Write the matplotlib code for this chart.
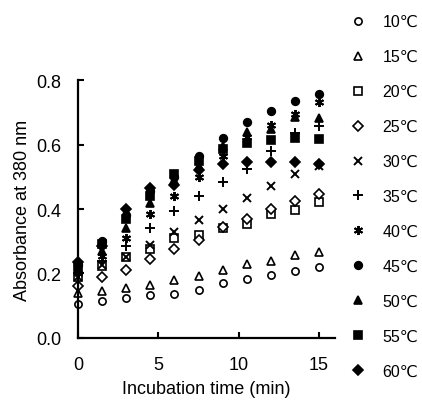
import matplotlib
matplotlib.use("Agg")
import matplotlib.pyplot as plt

plt.rcParams['font.family'] = ['Liberation Sans', 'DejaVu Sans']

times = [0, 1.5, 3, 4.5, 6, 7.5, 9, 10.5, 12, 13.5, 15]
labels = ["10℃", "15℃", "20℃", "25℃", "30℃", "35℃", "40℃", "45℃", "50℃", "55℃", "60℃"]

a10 = [0.105, 0.116, 0.124, 0.133, 0.136, 0.149, 0.171, 0.184, 0.194, 0.208, 0.219]
a15 = [0.140, 0.147, 0.155, 0.165, 0.180, 0.193, 0.210, 0.228, 0.240, 0.258, 0.267]
a20 = [0.190, 0.222, 0.250, 0.275, 0.310, 0.320, 0.340, 0.355, 0.385, 0.398, 0.421]
a25 = [0.160, 0.188, 0.210, 0.245, 0.275, 0.305, 0.345, 0.370, 0.400, 0.425, 0.446]
a30 = [0.190, 0.225, 0.250, 0.288, 0.328, 0.365, 0.400, 0.435, 0.470, 0.510, 0.535]
a35 = [0.200, 0.240, 0.285, 0.340, 0.395, 0.440, 0.485, 0.525, 0.580, 0.635, 0.658]
a40 = [0.200, 0.255, 0.310, 0.385, 0.440, 0.500, 0.565, 0.625, 0.660, 0.695, 0.731]
a45 = [0.225, 0.300, 0.380, 0.455, 0.500, 0.565, 0.620, 0.670, 0.705, 0.735, 0.757]
a50 = [0.210, 0.270, 0.340, 0.420, 0.490, 0.535, 0.595, 0.640, 0.650, 0.685, 0.684]
a55 = [0.220, 0.290, 0.370, 0.440, 0.510, 0.550, 0.585, 0.605, 0.615, 0.620, 0.617]
a60 = [0.235, 0.285, 0.400, 0.465, 0.475, 0.520, 0.540, 0.545, 0.545, 0.545, 0.540]

series = [a10, a15, a20, a25, a30, a35, a40, a45, a50, a55, a60]
markers = ['o', '^', 's', 'D', 'x', '+', (6, 2, 0), 'o', '^', 's', 'D']
filled = [False, False, False, False, None, None, None, True, True, True, True]
sizes = [5.2, 5.5, 5.2, 4.8, 5.5, 6.5, 6.5, 5.5, 5.8, 5.2, 4.8]

fig = plt.figure(figsize=(4.22, 4.02), dpi=100)
ax = fig.add_axes([0.185, 0.157, 0.609, 0.641])

for vals, m, f, s, lab in zip(series, markers, filled, sizes, labels):
    if f is None:
        ax.plot(times, vals, linestyle='none', marker=m, markersize=s,
                color='black', markeredgewidth=1.4, label=lab, clip_on=False)
    else:
        ax.plot(times, vals, linestyle='none', marker=m, markersize=s,
                markerfacecolor='black' if f else 'white',
                markeredgecolor='black', markeredgewidth=1.2, label=lab,
                clip_on=False)

ax.set_xlim(0, 16)
ax.set_ylim(0, 0.8)
ax.set_xticks([0, 5, 10, 15])
ax.set_yticks([0.0, 0.2, 0.4, 0.6, 0.8])
ax.set_yticklabels(["0.0", "0.2", "0.4", "0.6", "0.8"])
for s in ['top', 'right']:
    ax.spines[s].set_visible(False)
for s in ['left', 'bottom']:
    ax.spines[s].set_linewidth(1.6)
ax.tick_params(direction='in', length=4, width=1.5, labelsize=13)
ax.tick_params(axis='y', pad=12)
ax.tick_params(axis='x', pad=13)
ax.set_xlabel("Incubation time (min)", fontsize=13, labelpad=5)
ax.set_ylabel("Absorbance at 380 nm", fontsize=13, labelpad=4)

fig.legend(loc='upper left', bbox_to_anchor=(0.815, 0.978), frameon=False,
           fontsize=11.5, labelspacing=1.25, handletextpad=1.0,
           handlelength=1.0, borderaxespad=0)

fig.savefig("out.png", dpi=100)
